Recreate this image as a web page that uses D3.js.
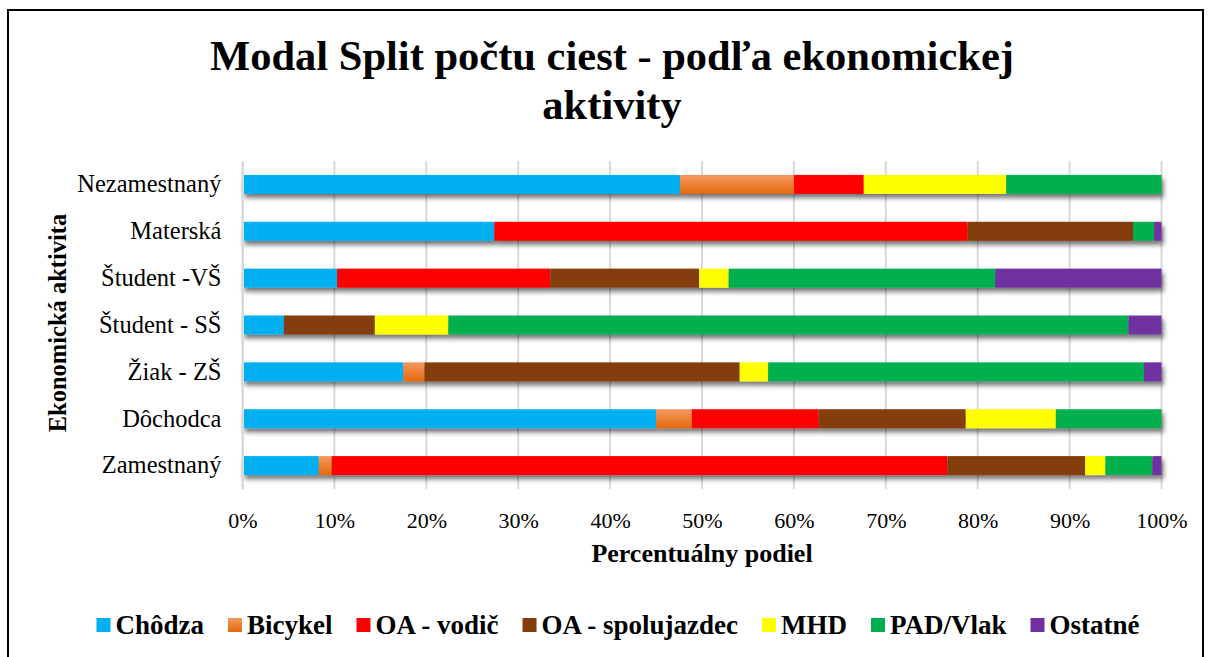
<!DOCTYPE html>
<html>
<head>
<meta charset="utf-8">
<script src="https://cdn.jsdelivr.net/npm/d3@7"></script>
<style>
  body { margin: 0; background: #fff; }
  text { font-family: "Liberation Serif", "Times New Roman", serif; fill: #000; }
</style>
</head>
<body>
<div class="chart"></div>
<script>
// kategórie (zhora nadol)
const categories = ["Nezamestnaný", "Materská", "Študent -VŠ", "Študent - SŠ", "Žiak - ZŠ", "Dôchodca", "Zamestnaný"];
// podiely v %
const chodza = [47.6, 27.4, 10.3, 4.5, 17.5, 45.0, 8.3];
const bicykel = [12.4, 0, 0, 0, 2.3, 3.9, 1.4];
const vodic = [7.6, 51.5, 23.2, 0, 0, 13.8, 67.0];
const spolujazdec = [0, 18.0, 16.2, 9.9, 34.3, 16.0, 15.0];
const mhd = [15.5, 0, 3.2, 8.0, 3.1, 9.8, 2.2];
const padVlak = [16.9, 2.3, 29.0, 74.0, 40.9, 11.5, 5.1];
const ostatne = [0, 0.8, 18.1, 3.6, 1.9, 0, 1.0];
const seriesNames = ["Chôdza", "Bicykel", "OA - vodič", "OA - spolujazdec", "MHD", "PAD/Vlak", "Ostatné"];
const tickValues = [0, 10, 20, 30, 40, 50, 60, 70, 80, 90, 100];

const colors = ["#00b0f0", "url(#orangeGrad)", "#ff0000", "#843c0c", "#ffff00", "#00b050", "#7030a0"];
const serif = '"Liberation Serif", "Times New Roman", serif';

const allSeries = [chodza, bicykel, vodic, spolujazdec, mhd, padVlak, ostatne];
const table = categories.map((c, i) => {
  const row = { cat: c };
  seriesNames.forEach((s, j) => { row[s] = allSeries[j][i]; });
  return row;
});

const W = 1208, H = 657;
const svg = d3.select(".chart").append("svg").attr("width", W).attr("height", H);

const defs = svg.append("defs");
const grad = defs.append("linearGradient").attr("id", "orangeGrad")
  .attr("x1", 0).attr("y1", 0).attr("x2", 0).attr("y2", 1);
grad.append("stop").attr("offset", "0%").attr("stop-color", "#f5995f");
grad.append("stop").attr("offset", "100%").attr("stop-color", "#e3690c");
const shadow = defs.append("filter").attr("id", "shadow")
  .attr("x", "-5%").attr("y", "-50%").attr("width", "110%").attr("height", "200%");
shadow.append("feDropShadow").attr("dx", 2).attr("dy", 4).attr("stdDeviation", 2.5)
  .attr("flood-color", "#000").attr("flood-opacity", 0.55);

// rámik
svg.append("rect").attr("x", 8).attr("y", 10).attr("width", 1195).attr("height", 700)
  .attr("fill", "none").attr("stroke", "#000").attr("stroke-width", 2);

// nadpis
const title = svg.append("text").attr("text-anchor", "middle")
  .style("font-family", serif).style("font-size", "42.5px").style("font-weight", "bold");
title.append("tspan").attr("x", 612).attr("y", 70).text("Modal Split počtu ciest - podľa ekonomickej");
title.append("tspan").attr("x", 612).attr("y", 119).text("aktivity");

const plotLeft = 242.5, plotRight = 1161.5, plotTop = 161, plotBottom = 489;
const x = d3.scaleLinear().domain([0, 100]).range([plotLeft, plotRight]);
const y = d3.scaleBand().domain(categories).range([plotTop, plotBottom]).paddingInner(0.595).paddingOuter(0.2975);

// mriežka
svg.append("g").selectAll("line").data(tickValues).join("line")
  .attr("x1", d => x(d)).attr("x2", d => x(d))
  .attr("y1", plotTop).attr("y2", plotBottom)
  .attr("stroke", "#d9d9d9").attr("stroke-width", 2);

// stĺpce
const stack = d3.stack().keys(seriesNames)(table);
const bars = svg.append("g").attr("filter", "url(#shadow)");
bars.selectAll("g").data(stack).join("g")
  .attr("fill", (d, i) => colors[i])
  .selectAll("rect").data(d => d).join("rect")
  .attr("x", d => x(d[0]))
  .attr("y", d => y(d.data.cat))
  .attr("width", d => Math.max(0, x(d[1]) - x(d[0])))
  .attr("height", y.bandwidth());

// osi
const xAxis = svg.append("g").attr("transform", `translate(0,${plotBottom})`)
  .call(d3.axisBottom(x).tickValues(tickValues).tickSize(0).tickPadding(23).tickFormat(d => d + "%"));
xAxis.select(".domain").remove();
xAxis.selectAll("text").style("font-family", serif).style("font-size", "22px").attr("fill", "#000");

const yAxis = svg.append("g").attr("transform", `translate(${plotLeft},0)`)
  .call(d3.axisLeft(y).tickSize(0).tickPadding(21));
yAxis.select(".domain").attr("stroke", "#d9d9d9").attr("stroke-width", 2);
yAxis.selectAll("text").style("font-family", serif).style("font-size", "24.5px").attr("fill", "#000");

// názvy osí
svg.append("text").attr("x", 702).attr("y", 562).attr("text-anchor", "middle")
  .style("font-family", serif).style("font-size", "26px").style("font-weight", "bold").text("Percentuálny podiel");
svg.append("text").attr("transform", "translate(66,323) rotate(-90)").attr("text-anchor", "middle")
  .style("font-family", serif).style("font-size", "24.5px").style("font-weight", "bold").text("Ekonomická aktivita");

// legenda
const legend = svg.append("g");
let lx = 0;
seriesNames.forEach((s, i) => {
  const g = legend.append("g").attr("transform", `translate(${lx},0)`);
  g.append("rect").attr("x", 0).attr("y", 618).attr("width", 14).attr("height", 14).attr("fill", colors[i]);
  const t = g.append("text").attr("x", 19).attr("y", 634)
    .style("font-family", serif).style("font-size", "27px").style("font-weight", "bold").text(s);
  lx += 19 + t.node().getComputedTextLength() + 24;
});
const legendW = lx - 24;
legend.attr("transform", `translate(${618 - legendW / 2},0)`);
</script>
</body>
</html>
